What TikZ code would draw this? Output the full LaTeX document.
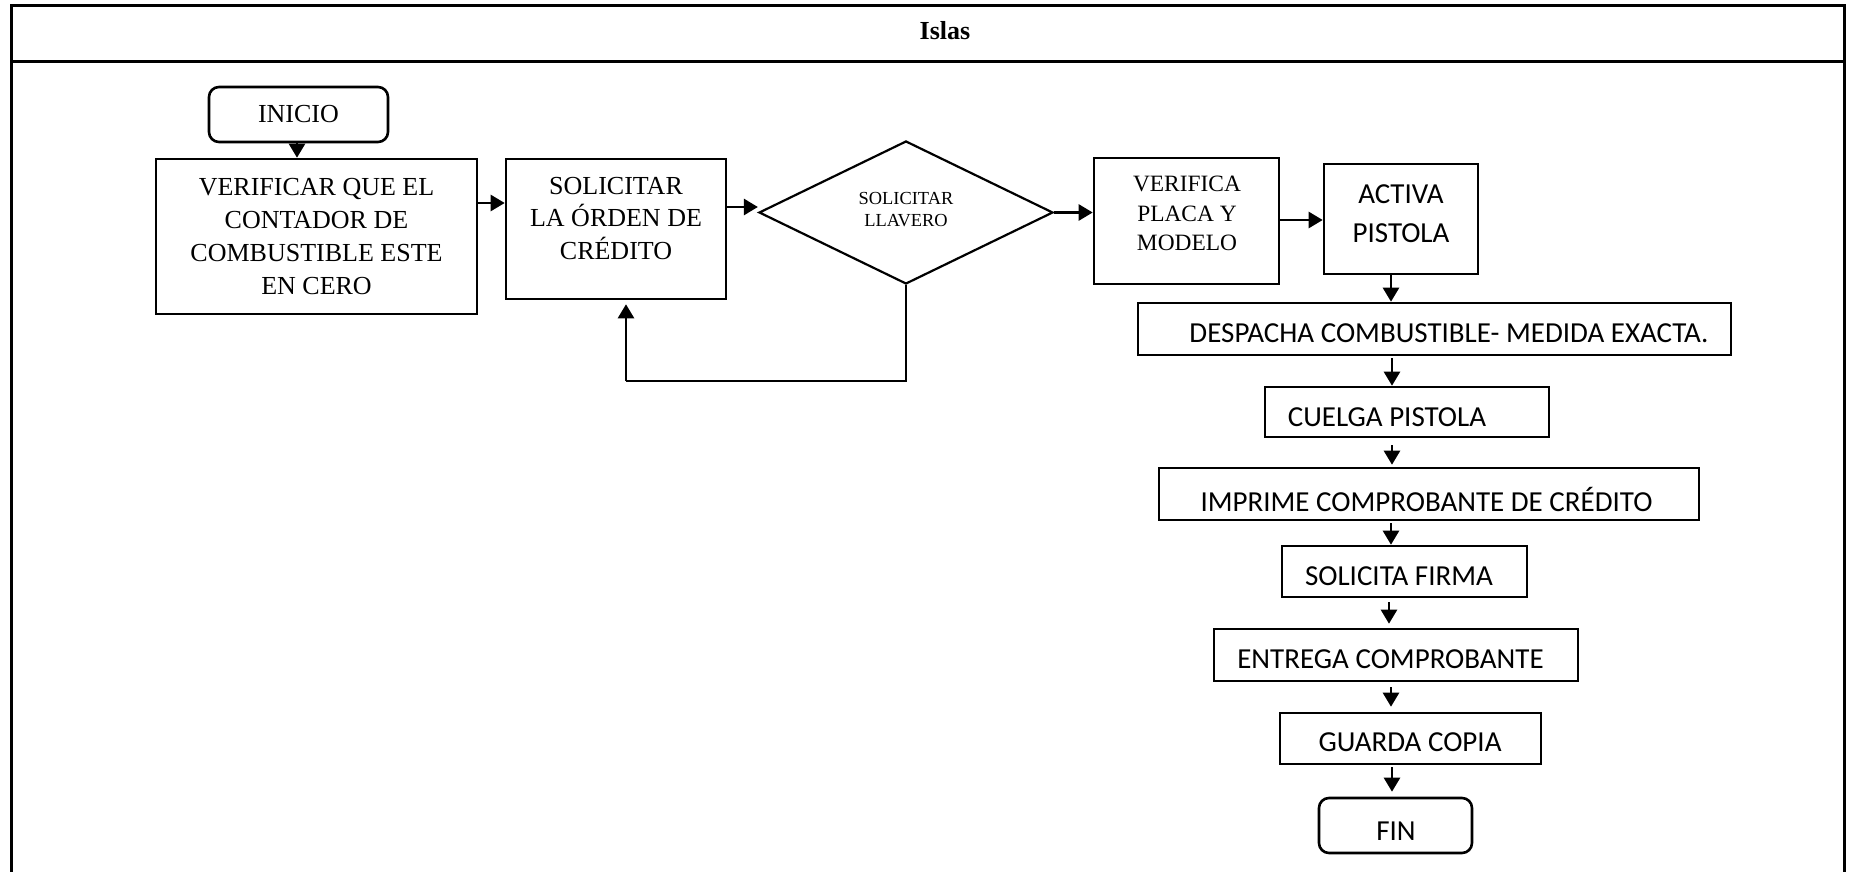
\documentclass[tikz,border=0pt]{standalone}
\usepackage{fontspec}
\setmainfont{Liberation Serif}
\newfontfamily\calibri{Carlito}
\usetikzlibrary{arrows.meta,shapes.geometric}
\begin{document}
\begin{tikzpicture}[x=0.5pt,y=-0.5pt,
  box/.style={draw,line width=1.3pt,inner sep=0pt},
  roundbox/.style={box,rounded corners=5pt},
  lbl/.style={inner sep=0pt,align=center},
  serifA/.style={font=\fontsize{13}{16.4}\selectfont},
  serifB/.style={font=\fontsize{11.7}{14.75}\selectfont},
  serifC/.style={font=\fontsize{9.2}{11}\selectfont},
  sansA/.style={font=\calibri\fontsize{14.5}{19.5}\selectfont},
  flow/.style={line width=1.3pt,-{Triangle[length=7pt,width=8pt]}},
  thinline/.style={line width=0.6pt},
  frame/.style={line width=1.5pt}]
\useasboundingbox (0,0) rectangle (1854,872);

% table frame with header row
\draw[frame] (11,875) -- (11,6) -- (1844,6) -- (1844,875);
\draw[frame] (11,62) -- (1844,62);
\node[font=\bfseries\fontsize{13}{15}\selectfont] (titulo) at (945,31) {Islas};

% left row of the flow
\node[roundbox,minimum width=89.5pt,minimum height=27.5pt,serifA] (inicio) at (298.5,114.5) {INICIO};
\node[box,minimum width=160.5pt,minimum height=77.5pt,serifA,align=center] (verif) at (316.5,236.5)
  {VERIFICAR QUE EL\\CONTADOR DE\\COMBUSTIBLE ESTE\\EN CERO};
\node[box,minimum width=110pt,minimum height=70pt] (solic) at (616,229) {};
\node[lbl,serifA] (solicT) at (616,218.5) {SOLICITAR\\LA ÓRDEN DE\\CRÉDITO};
\node[draw,diamond,line width=1.1pt,inner sep=0pt,minimum width=147pt,minimum height=71.5pt] (rombo) at (906,212.5) {};
\node[lbl,serifC] (romboT) at (906,210) {SOLICITAR\\LLAVERO};
\node[box,minimum width=92.5pt,minimum height=63pt] (verplaca) at (1186.5,221) {};
\node[lbl,serifB] (verplacaT) at (1187,213.5) {VERIFICA\\PLACA Y\\MODELO};
\node[box,minimum width=77pt,minimum height=55pt] (activa) at (1401,219) {};
\node[lbl,sansA] (activaT) at (1401,213.5) {ACTIVA\\PISTOLA};

% right column
\node[box,minimum width=296.5pt,minimum height=26pt] (despacha) at (1434.5,329) {};
\node[lbl,sansA] (despachaT) at (1449,333) {DESPACHA COMBUSTIBLE- MEDIDA EXACTA.};
\node[box,minimum width=142pt,minimum height=25pt] (cuelga) at (1407,412) {};
\node[lbl,sansA] (cuelgaT) at (1387,417) {CUELGA PISTOLA};
\node[box,minimum width=270pt,minimum height=26pt] (imprime) at (1429,494) {};
\node[lbl,sansA] (imprimeT) at (1426.5,499) {IMPRIME COMPROBANTE DE CRÉDITO};
\node[box,minimum width=122.5pt,minimum height=25.5pt] (firma) at (1404.5,571.5) {};
\node[lbl,sansA] (firmaT) at (1399,576) {SOLICITA FIRMA};
\node[box,minimum width=182pt,minimum height=26pt] (entrega) at (1396,655) {};
\node[lbl,sansA] (entregaT) at (1390.5,659) {ENTREGA COMPROBANTE};
\node[box,minimum width=130.5pt,minimum height=25.5pt] (guarda) at (1410.5,738.5) {};
\node[lbl,sansA] (guardaT) at (1410,742) {GUARDA COPIA};
\node[roundbox,minimum width=76.5pt,minimum height=27.5pt] (fin) at (1395.5,825.5) {};
\node[lbl,sansA] (finT) at (1396,831) {FIN};

% connectors
\draw[flow] (inicio.south -| 297,0) -- (297,0 |- verif.north);
\draw[flow] (verif.east |- 0,203) -- (solic.west |- 0,203);
\draw[flow] (solic.east |- 0,207) -- (rombo.west |- 0,207);
\draw[flow] (rombo.east) -- (verplaca.west |- rombo.east);
\draw[flow] (verplaca.east |- 0,220) -- (activa.west |- 0,220);
\coordinate (ret) at (626,381);
\draw[thinline] (rombo.south) |- (ret);
\draw[flow,shorten >=2pt] (ret) -- (ret |- solic.south);

\draw[flow] (1391,0 |- activa.south) -- (1391,0 |- despacha.north);
\draw[flow,shorten <=1pt] (1392,0 |- despacha.south) -- (1392,0 |- cuelga.north);
\draw[flow,shorten <=3.5pt,shorten >=1pt] (1392,0 |- cuelga.south) -- (1392,0 |- imprime.north);
\draw[flow,shorten <=1pt] (1391,0 |- imprime.south) -- (1391,0 |- firma.north);
\draw[flow,shorten <=2pt,shorten >=2pt] (1389,0 |- firma.south) -- (1389,0 |- entrega.north);
\draw[flow,shorten <=2.5pt,shorten >=2.5pt] (1391,0 |- entrega.south) -- (1391,0 |- guarda.north);
\draw[flow,shorten <=1pt,shorten >=2.5pt] (1392,0 |- guarda.south) -- (1392,0 |- fin.north);
\end{tikzpicture}
\end{document}
